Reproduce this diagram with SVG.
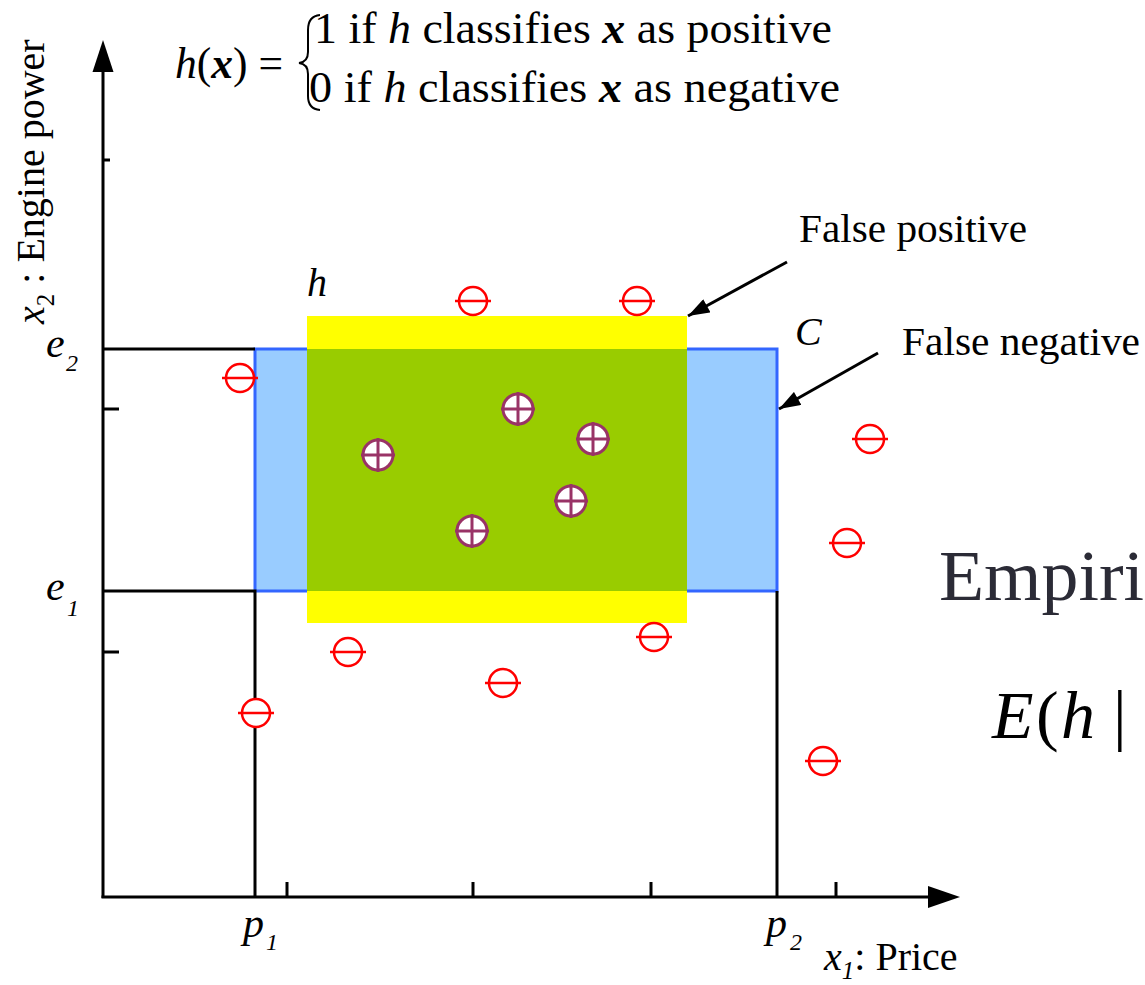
<svg xmlns="http://www.w3.org/2000/svg" width="1145" height="985" viewBox="0 0 1145 985">
<style>
.ln{stroke:#000;stroke-width:3;fill:none}
.t{font-family:"Liberation Serif","Times New Roman",serif;fill:#000}
.i{font-style:italic}
.b{font-weight:bold}
.neg{stroke:#ff0000;stroke-width:2.5;fill:#fff}
.pos{stroke:#993366;stroke-width:3;fill:#fff}
</style>
<defs>
<marker id="ah" viewBox="0 0 20 14" refX="20" refY="7" markerWidth="22" markerHeight="15" markerUnits="userSpaceOnUse" orient="auto">
<path d="M0,0 L20,7 L0,14 Z" fill="#000"/>
</marker>
<g id="mneg"><circle class="neg" r="14"/><line class="neg" x1="-18" y1="0" x2="18" y2="0" stroke-width="3"/></g>
<g id="mpos"><circle class="pos" r="15"/><line class="pos" x1="-17" y1="0" x2="17" y2="0"/><line class="pos" x1="0" y1="-17" x2="0" y2="17"/></g>
</defs>

<g id="regions">
<rect x="255" y="349" width="522" height="242" fill="#99ccff" stroke="#3366ff" stroke-width="3"/>
<rect x="307" y="316" width="380" height="307" fill="#ffff00"/>
<rect x="307" y="349" width="380" height="242" fill="#99cc00"/>
</g>

<g id="axes">
<line class="ln" x1="103" y1="60" x2="103" y2="898"/>
<polygon points="103,40 92.5,72 113.5,72" fill="#000"/>
<line class="ln" x1="101.5" y1="897" x2="940" y2="897"/>
<polygon points="960,897 928,886 928,908" fill="#000"/>
<path class="ln" d="M103,160 H110"/>
<path class="ln" d="M103,409 H119 M103,652 H119"/>
<path class="ln" d="M287,897 V882 M473,897 V882 M651,897 V882 M836,897 V882"/>
<path class="ln" d="M103,349 H255 M103,591 H255 V897 M777,591 V897"/>
</g>

<g id="labels">
<text class="t" transform="translate(44,324) rotate(-90)" font-size="40"><tspan class="i">x</tspan><tspan font-size="25" dy="10">2</tspan><tspan dy="-10"> : Engine power</tspan></text>
<text class="t i" x="46" y="357" font-size="42">e</text><text class="t i" x="66" y="371" font-size="24">2</text>
<text class="t i" x="46" y="600" font-size="42">e</text><text class="t i" x="67" y="616" font-size="24">1</text>
<text class="t i" x="243" y="937" font-size="42">p</text><text class="t i" x="266" y="950" font-size="24">1</text>
<text class="t i" x="766" y="937" font-size="42">p</text><text class="t i" x="790" y="950" font-size="24">2</text>
<text class="t" x="824" y="970" font-size="40"><tspan class="i">x</tspan><tspan font-size="25" dy="9" class="i">1</tspan><tspan dy="-9">: Price</tspan></text>
<text class="t i" x="307" y="296" font-size="40">h</text>
<text class="t i" x="795" y="345" font-size="40">C</text>
<text class="t" x="799" y="242" font-size="40" textLength="228" lengthAdjust="spacingAndGlyphs">False positive</text>
<text class="t" x="902" y="355" font-size="40" textLength="238" lengthAdjust="spacingAndGlyphs">False negative</text>
</g>

<g id="formula">
<text class="t" x="175" y="78" font-size="44" textLength="108" lengthAdjust="spacingAndGlyphs"><tspan class="i">h</tspan>(<tspan class="i b">x</tspan>) =</text>
<path d="M320,15 Q308,16 308,30 V52 Q308,62 299,63 Q308,64 308,74 V96 Q308,109 320,110" fill="none" stroke="#000" stroke-width="2"/>
<text class="t" x="314" y="43" font-size="44" textLength="518" lengthAdjust="spacingAndGlyphs">1 if <tspan class="i">h</tspan> classifies <tspan class="i b">x</tspan> as positive</text>
<text class="t" x="309" y="102" font-size="44" textLength="531" lengthAdjust="spacingAndGlyphs">0 if <tspan class="i">h</tspan> classifies <tspan class="i b">x</tspan> as negative</text>
</g>

<g id="side-text">
<text class="t" x="939" y="600" font-size="72" textLength="205" lengthAdjust="spacingAndGlyphs" style="fill:#2b2b36">Empiri</text>
<text class="t i" x="992" y="738" font-size="68">E</text>
<text class="t" x="1036" y="738" font-size="68">(</text>
<text class="t i" x="1061" y="738" font-size="68">h</text>
<text class="t" x="1113" y="738" font-size="68">|</text>
</g>

<g id="connectors">
<line class="ln" x1="787" y1="262" x2="688" y2="316" marker-end="url(#ah)"/>
<line class="ln" x1="878" y1="353" x2="779" y2="409" marker-end="url(#ah)"/>
</g>

<g id="negatives">
<use href="#mneg" x="240" y="378"/>
<use href="#mneg" x="473" y="301"/>
<use href="#mneg" x="637" y="301"/>
<use href="#mneg" x="870" y="439"/>
<use href="#mneg" x="847" y="543"/>
<use href="#mneg" x="348" y="652"/>
<use href="#mneg" x="503" y="683"/>
<use href="#mneg" x="654" y="637"/>
<use href="#mneg" x="256" y="713"/>
<use href="#mneg" x="823" y="761"/>
</g>

<g id="positives">
<use href="#mpos" x="378" y="455"/>
<use href="#mpos" x="518" y="409"/>
<use href="#mpos" x="593" y="439"/>
<use href="#mpos" x="571" y="501"/>
<use href="#mpos" x="472" y="531"/>
</g>
</svg>
